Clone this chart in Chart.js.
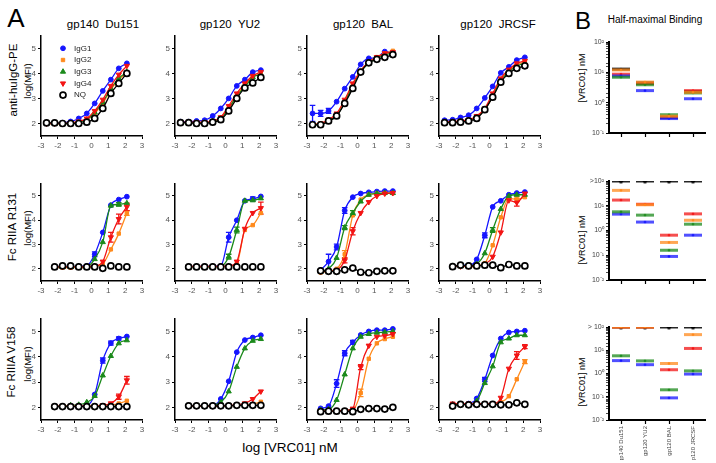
<!DOCTYPE html>
<html>
<head>
<meta charset="utf-8">
<script src="https://cdn.jsdelivr.net/npm/chart.js@4.4.0/dist/chart.umd.min.js"></script>
<style>
  body { margin: 0; width: 716px; height: 463px; position: relative; overflow: hidden; background: #fff;
         font-family: 'Liberation Sans', Arial, sans-serif; }
  canvas { position: absolute; }
  .t { position: absolute; white-space: pre; transform: translate(-50%, -50%); color: #000; line-height: 1; }
  .r { transform: translate(-50%, -50%) rotate(-90deg); }
</style>
</head>
<body>
<div class="t" style="left:16px;top:18px;font-size:26px">A</div>
<div class="t" style="left:583px;top:21px;font-size:24px">B</div>
<div class="t" style="left:103px;top:25px;font-size:11.5px">gp140  Du151</div>
<div class="t" style="left:230px;top:25px;font-size:11.5px">gp120  YU2</div>
<div class="t" style="left:363px;top:25px;font-size:11.5px">gp120  BAL</div>
<div class="t" style="left:498px;top:25px;font-size:11.5px">gp120  JRCSF</div>
<div class="t" style="left:655px;top:20px;font-size:10px">Half-maximal Binding</div>
<div class="t r" style="left:14px;top:80px;font-size:11.5px">anti-huIgG-PE</div>
<div class="t r" style="left:13px;top:227px;font-size:11.5px">Fc RIIA R131</div>
<div class="t r" style="left:12px;top:362px;font-size:11.5px">Fc RIIIA V158</div>
<div class="t r" style="left:28px;top:81px;font-size:9.5px">log(MFI)</div>
<div class="t r" style="left:28px;top:228px;font-size:9.5px">log(MFI)</div>
<div class="t r" style="left:28px;top:364px;font-size:9.5px">log(MFI)</div>
<div class="t r" style="left:582px;top:78px;font-size:9px">[VRC01] nM</div>
<div class="t r" style="left:582px;top:240px;font-size:9px">[VRC01] nM</div>
<div class="t r" style="left:582px;top:382px;font-size:9px">[VRC01] nM</div>
<div class="t" style="left:290px;top:448px;font-size:13.5px">log [VRC01] nM</div>

<script>
// log [VRC01] nM dilution points (row 1 has one extra low concentration)
const xFull = [-2.67, -2.19, -1.72, -1.24, -0.76, -0.28, 0.19, 0.67, 1.15, 1.62, 2.1];
const xShort = [-2.19, -1.72, -1.24, -0.76, -0.28, 0.19, 0.67, 1.15, 1.62, 2.1];

const seriesNames = ['IgG1', 'IgG2', 'IgG3', 'IgG4', 'NQ'];
const yTicksA = [2, 3, 4, 5];

// log(MFI) per series, order IgG1, IgG2, IgG3, IgG4, NQ
const huDu151 = [
  [2.0, 2.02, 2.03, 2.08, 2.2, 2.4, 2.8, 3.3, 3.75, 4.2, 4.4],
  [2.0, 2.0, 2.0, 2.0, 2.05, 2.15, 2.4, 2.8, 3.35, 3.75, 4.0],
  [2.0, 2.0, 2.0, 2.0, 2.05, 2.15, 2.45, 2.85, 3.4, 3.8, 4.05],
  [2.0, 2.0, 2.0, 2.02, 2.08, 2.2, 2.5, 2.95, 3.5, 3.95, 4.3],
  [2.02, 2.02, 2.0, 2.0, 2.0, 2.05, 2.2, 2.6, 3.2, 3.6, 4.0]
];
const huYU2 = [
  [2.07, 2.07, 2.1, 2.13, 2.3, 2.6, 3.0, 3.5, 3.75, 4.05, 4.13],
  [2.03, 2.03, 2.03, 2.03, 2.07, 2.2, 2.6, 3.1, 3.55, 3.85, 4.0],
  [2.03, 2.03, 2.03, 2.03, 2.07, 2.2, 2.6, 3.1, 3.45, 3.85, 3.95],
  [2.05, 2.05, 2.05, 2.05, 2.1, 2.25, 2.7, 3.2, 3.6, 3.9, 4.05],
  [2.03, 2.03, 2.0, 2.0, 2.05, 2.15, 2.5, 3.0, 3.42, 3.62, 3.84]
];
const huBAL = [
  [2.4, 2.4, 2.5, 2.87, 3.39, 3.86, 4.36, 4.6, 4.62, 4.87, 4.84],
  [1.95, 2.0, 2.1, 2.35, 2.9, 3.55, 4.1, 4.45, 4.65, 4.8, 4.9],
  [1.95, 1.95, 2.1, 2.3, 2.85, 3.5, 4.05, 4.4, 4.6, 4.75, 4.8],
  [1.95, 2.0, 2.15, 2.4, 2.95, 3.6, 4.1, 4.45, 4.65, 4.8, 4.85],
  [1.95, 1.95, 2.1, 2.3, 2.8, 3.4, 4.05, 4.42, 4.56, 4.64, 4.75]
];
const huJRCSF = [
  [2.13, 2.15, 2.24, 2.33, 2.6, 3.02, 3.48, 4.02, 4.26, 4.53, 4.64],
  [2.05, 2.05, 2.1, 2.12, 2.25, 2.55, 3.1, 3.75, 4.1, 4.35, 4.45],
  [2.05, 2.05, 2.08, 2.12, 2.25, 2.55, 3.1, 3.7, 4.05, 4.3, 4.4],
  [2.05, 2.08, 2.1, 2.15, 2.3, 2.6, 3.2, 3.8, 4.15, 4.4, 4.5],
  [2.03, 2.03, 2.05, 2.1, 2.2, 2.55, 3.05, 3.65, 4.0, 4.2, 4.3]
];
const r131Du151 = [
  [2.08, 2.1, 2.1, 2.1, 2.12, 2.6, 3.5, 4.62, 4.85, 4.97],
  [2.05, 2.05, 2.05, 2.05, 2.05, 2.1, 2.2, 2.8, 3.45, 4.3],
  [2.08, 2.08, 2.08, 2.08, 2.1, 2.4, 3.1, 4.6, 4.65, 4.7],
  [2.08, 2.08, 2.08, 2.08, 2.1, 2.12, 2.3, 3.3, 4.05, 4.55],
  [2.08, 2.12, 2.12, 2.08, 2.08, 2.08, 2.02, 2.12, 2.08, 2.08]
];
const r131YU2 = [
  [2.08, 2.1, 2.1, 2.1, 2.12, 3.3, 4.0, 4.8, 4.88, 4.98],
  [2.08, 2.08, 2.08, 2.08, 2.08, 2.1, 2.2, 3.6, 3.8, 4.3],
  [2.08, 2.08, 2.08, 2.08, 2.1, 2.5, 3.6, 4.8, 4.82, 4.9],
  [2.1, 2.1, 2.1, 2.1, 2.1, 2.12, 2.3, 3.65, 4.3, 4.5],
  [2.08, 2.08, 2.08, 2.08, 2.08, 2.08, 2.08, 2.08, 2.08, 2.08]
];
const r131BAL = [
  [1.95, 2.3, 2.9, 4.4, 4.95, 5.1, 5.15, 5.18, 5.2, 5.2],
  [1.85, 1.9, 2.0, 2.6, 4.2, 4.85, 5.05, 5.1, 5.12, 5.12],
  [1.9, 2.0, 2.45, 3.7, 4.3, 4.77, 5.05, 5.1, 5.12, 5.12],
  [1.9, 1.9, 1.95, 2.35, 3.55, 4.3, 4.75, 5.0, 5.1, 5.12],
  [1.92, 1.9, 1.9, 1.96, 2.03, 1.86, 1.84, 1.9, 1.92, 1.92]
];
const r131JRCSF = [
  [2.1, 2.15, 2.15, 2.39, 3.38, 4.55, 4.8, 5.05, 5.12, 5.16],
  [2.1, 2.1, 2.08, 2.12, 2.23, 2.97, 4.12, 4.9, 4.86, 4.95],
  [2.12, 2.12, 2.12, 2.2, 2.64, 3.6, 4.46, 5.0, 5.05, 5.05],
  [2.1, 2.1, 2.1, 2.12, 2.2, 2.5, 3.5, 4.82, 4.73, 5.1],
  [2.09, 2.15, 2.12, 2.12, 2.15, 2.15, 2.05, 2.18, 2.12, 2.12]
];
const v158Du151 = [
  [2.05, 2.05, 2.05, 2.05, 2.08, 2.51, 3.85, 4.54, 4.72, 4.8],
  [2.05, 2.05, 2.05, 2.05, 2.05, 2.05, 2.08, 2.1, 2.15, 2.26],
  [2.05, 2.05, 2.08, 2.1, 2.2, 2.45, 3.26, 4.03, 4.53, 4.65],
  [2.05, 2.05, 2.05, 2.05, 2.05, 2.05, 2.08, 2.16, 2.42, 3.07],
  [2.03, 2.03, 2.03, 2.03, 2.03, 2.03, 2.03, 2.03, 2.03, 2.03]
];
const v158YU2 = [
  [2.05, 2.05, 2.05, 2.08, 2.33, 3.03, 4.18, 4.66, 4.76, 4.85],
  [2.05, 2.05, 2.05, 2.05, 2.05, 2.05, 2.08, 2.1, 2.12, 2.22],
  [2.05, 2.05, 2.05, 2.08, 2.2, 2.63, 3.6, 4.33, 4.63, 4.7],
  [2.05, 2.05, 2.05, 2.05, 2.05, 2.08, 2.1, 2.16, 2.33, 2.63],
  [2.06, 2.06, 2.06, 2.06, 2.06, 2.06, 2.08, 2.08, 2.08, 2.08]
];
const v158BAL = [
  [1.96, 2.05, 2.94, 4.14, 4.57, 4.86, 5.0, 5.05, 5.05, 5.1],
  [1.85, 1.85, 1.85, 1.88, 1.9, 2.57, 3.92, 4.53, 4.7, 4.79],
  [1.9, 1.92, 2.29, 3.3, 4.33, 4.79, 4.9, 4.95, 4.97, 5.0],
  [1.85, 1.85, 1.85, 1.88, 1.95, 3.59, 4.44, 4.79, 4.83, 4.9],
  [1.83, 1.85, 1.85, 1.85, 1.83, 1.92, 1.95, 1.95, 1.93, 2.0]
];
const v158JRCSF = [
  [2.12, 2.12, 2.15, 2.35, 3.1, 4.05, 4.72, 4.96, 5.0, 5.03],
  [2.12, 2.12, 2.12, 2.12, 2.15, 2.15, 2.2, 2.44, 3.11, 3.81],
  [2.12, 2.12, 2.12, 2.25, 2.96, 3.62, 4.57, 4.72, 4.85, 4.85],
  [2.15, 2.15, 2.15, 2.15, 2.15, 2.15, 2.38, 3.53, 4.05, 4.4],
  [2.05, 2.12, 2.1, 2.12, 2.12, 2.12, 2.1, 2.1, 2.18, 2.12]
];

// [row, col, series, point index, +/- error in log(MFI)]
const errorBars = [
  [0, 2, 0, 0, 0.32], [0, 2, 0, 1, 0.12], [0, 2, 0, 2, 0.1],
  [1, 0, 0, 5, 0.1], [1, 0, 3, 7, 0.2], [1, 0, 3, 8, 0.2], [1, 0, 3, 9, 0.15], [1, 0, 2, 8, 0.07], [1, 0, 1, 9, 0.1],
  [1, 1, 0, 5, 0.2], [1, 1, 2, 5, 0.1], [1, 1, 2, 6, 0.12], [1, 1, 3, 9, 0.25], [1, 1, 0, 8, 0.08],
  [1, 2, 0, 1, 0.3], [1, 2, 0, 2, 0.12], [1, 2, 0, 3, 0.12], [1, 2, 2, 3, 0.08], [1, 2, 1, 3, 0.15],
  [1, 2, 3, 4, 0.15], [1, 2, 3, 3, 0.1], [1, 2, 2, 4, 0.1],
  [1, 3, 2, 5, 0.1], [1, 3, 3, 8, 0.15], [1, 3, 1, 8, 0.1], [1, 3, 0, 4, 0.1],
  [2, 0, 0, 6, 0.1], [2, 0, 0, 7, 0.08], [2, 0, 0, 8, 0.06], [2, 0, 3, 9, 0.15], [2, 0, 3, 8, 0.1],
  [2, 2, 0, 2, 0.15], [2, 2, 0, 3, 0.1], [2, 2, 1, 5, 0.15], [2, 2, 3, 5, 0.1], [2, 2, 0, 4, 0.08],
  [2, 3, 3, 8, 0.15], [2, 3, 1, 9, 0.08], [2, 3, 3, 9, 0.08], [2, 3, 0, 4, 0.08]
];

// Half-maximal binding (nM), categories as in B, series IgG1, IgG2, IgG3, IgG4, NQ
const bindingCats = ['gp140 Du151', 'gp120 YU2', 'gp120 BAL', 'gp120 JRCSF'];
const ec50Hu = [
  [7.6, 2.5, 0.30, 1.35],
  [12.0, 4.8, 0.36, 2.2],
  [6.9, 3.9, 0.40, 2.1],
  [8.7, 4.3, 0.34, 2.5],
  [12.8, 4.5, 0.33, 2.3]
];
const ec50R131 = [
  [4.6, 2.2, 0.09, 0.65],
  [42, 11, 0.33, 2.6],
  [5.7, 4.2, 0.16, 1.8],
  [17, 11.5, 0.65, 4.7],
  [100, 100, 100, 100]
];
const ec50V158 = [
  [3.6, 2.4, 0.09, 0.95],
  [100, 100, 2.7, 47],
  [5.8, 3.5, 0.2, 1.3],
  [100, 100, 1.45, 12],
  [100, 100, 100, 100]
];

const FONT = "'Liberation Sans', Arial, sans-serif";
Chart.defaults.font.family = FONT;

const colors = ['#1515ff', '#ff8a1c', '#1b8a1b', '#f21414', '#000000'];
const styles = ['circle', 'rect', 'triangle', 'triangle', 'circle'];

// layout of the dose-response grid
const colLeft = [41, 175, 307, 439];
const rowTop = [35, 183, 318];
const rowBottom = [136, 281, 420];
const plotW = 101;

const errorBarPlugin = {
  id: 'errorBars',
  beforeDatasetsDraw(chart) {
    const { ctx, scales: { x, y } } = chart;
    chart.data.datasets.forEach(ds => {
      if (!ds.errs) return;
      ctx.save();
      ctx.strokeStyle = ds.pointBorderColor;
      ctx.lineWidth = 1.3;
      ds.errs.forEach(([idx, e]) => {
        const p = ds.data[idx];
        const px = x.getPixelForValue(p.x);
        const y1 = y.getPixelForValue(p.y - e), y2 = y.getPixelForValue(p.y + e);
        ctx.beginPath();
        ctx.moveTo(px, y1); ctx.lineTo(px, y2);
        ctx.moveTo(px - 2.8, y1); ctx.lineTo(px + 2.8, y1);
        ctx.moveTo(px - 2.8, y2); ctx.lineTo(px + 2.8, y2);
        ctx.stroke();
      });
      ctx.restore();
    });
  }
};

const innerLegend = {
  id: 'innerLegend',
  afterDraw(chart, args, opts) {
    if (!opts.show) return;
    const { ctx, chartArea } = chart;
    ctx.save();
    chart.data.datasets.forEach((ds, i) => {
      const cx = chartArea.left + 22, cy = chartArea.top + 12.5 + i * 11.7;
      ctx.fillStyle = ds.backgroundColor;
      ctx.strokeStyle = ds.pointBorderColor;
      ctx.lineWidth = ds.pointBorderWidth;
      Chart.helpers.drawPoint(ctx, {
        pointStyle: ds.pointStyle, rotation: ds.pointRotation,
        radius: ds.pointRadius, borderWidth: ds.pointBorderWidth
      }, cx, cy);
      ctx.fillStyle = '#222';
      ctx.font = '8px ' + FONT;
      ctx.textBaseline = 'middle';
      ctx.fillText(ds.label, cx + 11, cy);
    });
    ctx.restore();
  }
};

function axisStyle(extra) {
  return Object.assign({
    ticks: { color: '#555', font: { size: 8 }, padding: 2, maxRotation: 0 },
    grid: { drawOnChartArea: false, tickLength: 3, tickColor: '#000', tickWidth: 1 },
    border: { color: '#000', width: 1.5 }
  }, extra);
}

function makeCurvePanel(row, col, values) {
  const xs = row === 0 ? xFull : xShort;
  const plotH = rowBottom[row] - rowTop[row];
  const cv = document.createElement('canvas');
  cv.width = 24 + plotW + 6;
  cv.height = plotH + 6 + 18;
  cv.style.left = (colLeft[col] - 24) + 'px';
  cv.style.top = (rowTop[row] - 6) + 'px';
  document.body.appendChild(cv);

  // NQ has no fitted curve where it never binds
  const nqLine = !(row === 1 && col < 2);

  const datasets = values.map((ys, s) => ({
    label: seriesNames[s],
    data: xs.map((x, i) => ({ x, y: ys[i] })),
    showLine: s < 4 || nqLine,
    borderColor: colors[s],
    borderWidth: 1.3,
    backgroundColor: s === 4 ? '#ffffff' : colors[s],
    pointBorderColor: colors[s],
    pointStyle: styles[s],
    pointRotation: s === 3 ? 180 : 0,
    pointRadius: s === 4 ? 3 : (s === 2 || s === 3 ? 3 : 2.4),
    pointBorderWidth: s === 4 ? 1.7 : 1,
    cubicInterpolationMode: 'monotone',
    order: s === 4 ? 0 : 5 - s,
    errs: errorBars.filter(e => e[0] === row && e[1] === col && e[2] === s).map(e => [e[3], e[4]])
  }));

  new Chart(cv, {
    type: 'scatter',
    data: { datasets },
    plugins: [errorBarPlugin, innerLegend],
    options: {
      responsive: false,
      animation: false,
      events: [],
      layout: { padding: { top: 6, right: 6, left: 0, bottom: 0 } },
      plugins: {
        legend: { display: false },
        tooltip: { enabled: false },
        innerLegend: { show: row === 0 && col === 0 }
      },
      scales: {
        x: axisStyle({
          type: 'linear', min: -3, max: 3,
          ticks: { stepSize: 1, color: '#555', font: { size: 8 }, padding: 2, maxRotation: 0 },
          afterFit: s => { s.height = 18; }
        }),
        y: axisStyle({
          type: 'linear', min: 1.5, max: 5.5,
          afterBuildTicks: s => { s.ticks = yTicksA.map(v => ({ value: v })); },
          afterFit: s => { s.width = 24; }
        })
      }
    }
  });
}

const panelGrid = [
  [huDu151, huYU2, huBAL, huJRCSF],
  [r131Du151, r131YU2, r131BAL, r131JRCSF],
  [v158Du151, v158YU2, v158BAL, v158JRCSF]
];
panelGrid.forEach((rowPanels, r) => rowPanels.forEach((vals, c) => makeCurvePanel(r, c, vals)));

// ---- panel B ----
const supers = { '-2': '\u207B\u00B2', '-1': '\u207B\u00B9', '0': '\u2070', '1': '\u00B9', '2': '\u00B2' };

function barMarker(color, dotR) {
  const c = document.createElement('canvas');
  c.width = 18; c.height = 7;
  const g = c.getContext('2d');
  g.globalAlpha = color === '#000000' ? 0.85 : 0.75;
  g.fillStyle = color;
  g.fillRect(0, 2, 18, 3);
  g.globalAlpha = 1;
  g.beginPath();
  g.arc(9, 3.5, dotR, 0, Math.PI * 2);
  g.fill();
  return c;
}

const bTop = [38, 177, 323];
const bBottom = [135, 282, 420];
const bMin = [0.1, 0.01, 0.01];
const bTopLabel = ['10\u00B2', '>10\u00B2', '> 10\u00B2'];
const bOrder = [3, 1, 2, 4, 5];

function makeBindingPanel(k, values) {
  const xH = k === 2 ? 40 : 8;
  const cv = document.createElement('canvas');
  cv.width = 30 + 100 + 6;
  cv.height = (bBottom[k] - bTop[k]) + 6 + xH;
  cv.style.left = (609 - 30) + 'px';
  cv.style.top = (bTop[k] - 6) + 'px';
  document.body.appendChild(cv);

  const datasets = values.map((vals, s) => ({
    label: seriesNames[s],
    data: vals,
    showLine: false,
    pointStyle: barMarker(colors[s], s === 4 && k > 0 ? 2.4 : 1.3),
    pointRadius: 9,
    order: bOrder[s]
  }));

  new Chart(cv, {
    type: 'line',
    data: { labels: bindingCats, datasets },
    options: {
      responsive: false,
      animation: false,
      events: [],
      layout: { padding: { top: 6, right: 6, left: 0, bottom: 0 } },
      plugins: { legend: { display: false }, tooltip: { enabled: false } },
      scales: {
        x: {
          type: 'category', offset: true,
          ticks: { display: k === 2, minRotation: 90, maxRotation: 90, color: '#444', font: { size: 6 }, padding: 2 },
          grid: { drawOnChartArea: false, tickLength: 4, tickColor: '#000', tickWidth: 1.2, offset: false },
          border: { color: '#000', width: 2 },
          afterFit: s => { s.height = xH; }
        },
        y: {
          type: 'logarithmic', min: bMin[k], max: 100,
          ticks: {
            autoSkip: false, color: '#444', font: { size: 7 }, padding: 2,
            callback: v => {
              const e = Math.log10(v);
              if (Math.abs(e - Math.round(e)) > 1e-6) return '';
              const n = Math.round(e);
              return n === 2 ? bTopLabel[k] : '10' + supers[String(n)];
            }
          },
          grid: {
            drawOnChartArea: false, tickLength: 3, tickColor: '#000',
            tickWidth: ctx => {
              const e = Math.log10(ctx.tick.value);
              return Math.abs(e - Math.round(e)) < 1e-6 ? 1.2 : 0.7;
            }
          },
          border: { color: '#000', width: 2 },
          afterFit: s => { s.width = 30; }
        }
      }
    }
  });
}

[ec50Hu, ec50R131, ec50V158].forEach((vals, k) => makeBindingPanel(k, vals));
</script>
</body>
</html>
